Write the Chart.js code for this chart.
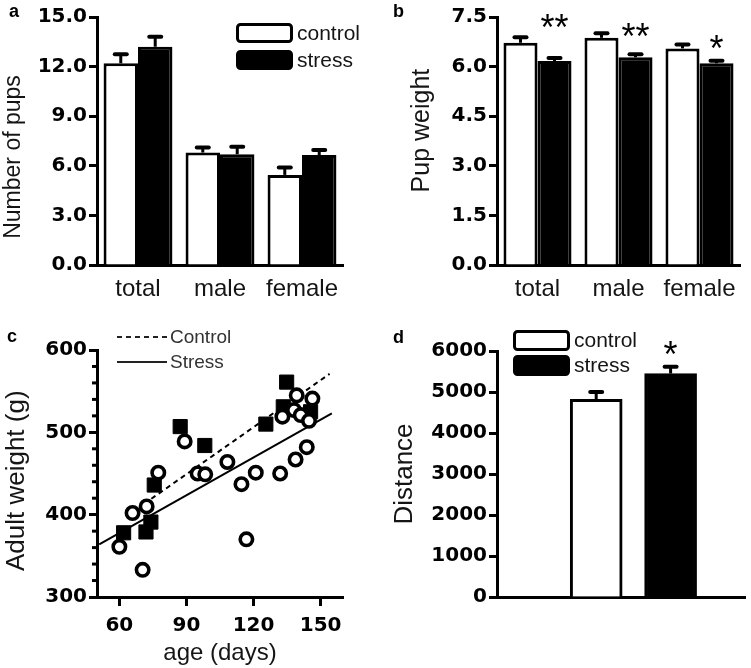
<!DOCTYPE html>
<html>
<head>
<meta charset="utf-8">
<script src="https://cdn.jsdelivr.net/npm/chart.js@4.4.1/dist/chart.umd.min.js"></script>
<style>
  html, body { margin: 0; padding: 0; background: #fff; }
  #wrap { position: relative; width: 751px; height: 668px; overflow: hidden; background: #fff; }
  canvas { position: absolute; }
  #chartA { left: 0; top: 0; }
  #chartB { left: 375px; top: 0; }
  #chartC { left: 0; top: 320px; }
  #chartD { left: 375px; top: 320px; }
</style>
</head>
<body>
<div id="wrap">
  <canvas id="chartA" width="375" height="320"></canvas>
  <canvas id="chartB" width="376" height="320"></canvas>
  <canvas id="chartC" width="375" height="348"></canvas>
  <canvas id="chartD" width="376" height="348"></canvas>
</div>
<script>
// ---- panel a: number of pups
const groups = ['total', 'male', 'female'];
const pupsControl = [12.2, 6.8, 5.45];
const pupsControlErr = [0.55, 0.3, 0.45];
const pupsStress = [13.2, 6.7, 6.65];
const pupsStressErr = [0.6, 0.45, 0.3];
const pupsTicks = [0, 3, 6, 9, 12, 15];

// ---- panel b: pup weight
const weightControl = [6.72, 6.87, 6.55];
const weightControlErr = [0.17, 0.14, 0.12];
const weightStress = [6.17, 6.28, 6.1];
const weightStressErr = [0.09, 0.09, 0.08];
const weightTicks = [0, 1.5, 3, 4.5, 6, 7.5];
const weightStars = ['**', '**', '*'];
const weightStarAt = [7.4, 7.15, 6.77];

// ---- panel c: adult weight vs age
const controlAge = [61.9, 71.9, 74.1, 75.6, 87.2, 98.2, 125.5, 133.3, 134.8, 145.5];
const controlAdult = [378, 379, 391, 436, 507, 484, 510, 531, 561, 525];
const stressAge = [60, 65.9, 70.4, 72.2, 77.4, 89.2, 95, 98.4, 108.3, 114.6, 116.8, 121,
  131.9, 132.9, 138.8, 143.8, 139.3, 146.3, 138.1, 141.1, 144.8];
const stressAdult = [361, 402, 333, 410, 451, 489, 450, 449, 464, 437, 370, 451,
  450, 519, 467, 482, 545, 541, 527, 521, 514];
const controlFitAge = [71, 154];
const controlFitWeight = [413, 571];
const stressFitAge = [51, 155];
const stressFitWeight = [364, 523];
const ageTicks = [60, 90, 120, 150];
const adultTicks = [300, 400, 500, 600];

// ---- panel d: distance
const treatments = ['control', 'stress'];
const distance = [4820, 5450];
const distanceErr = [180, 165];
const distanceTicks = [0, 1000, 2000, 3000, 4000, 5000, 6000];
const distanceStars = ['*'];
const distanceStarAt = [6090];

Chart.defaults.font.family = "'Liberation Sans', Arial, sans-serif";
Chart.defaults.color = '#000';
Chart.defaults.animation = false;
Chart.defaults.plugins.legend.display = false;
Chart.defaults.plugins.tooltip.enabled = false;

const tickFont = { family: 'DejaVu Sans', weight: 'bold', size: 20 };

function valueAxis(ticks, digits, title, titleSize, titlePad, width) {
  return {
    min: ticks[0],
    max: ticks[ticks.length - 1],
    afterBuildTicks: s => { s.ticks = ticks.map(v => ({ value: v })); },
    afterFit: s => { s.width = width; },
    ticks: { font: tickFont, color: '#000', padding: 2, callback: v => v.toFixed(digits) },
    grid: { drawOnChartArea: false, tickLength: 8, tickWidth: 3, tickColor: '#000' },
    border: { color: '#000', width: 3 },
    title: { display: true, text: title, color: '#151515', font: { size: titleSize }, padding: { top: titlePad, bottom: 0 } }
  };
}

function groupAxis(height) {
  return {
    afterFit: s => { s.height = height; },
    ticks: { font: { size: 24 }, color: '#151515', padding: 10 },
    grid: { display: false, drawTicks: false },
    border: { color: '#000', width: 3 }
  };
}

// upper error bars on bar charts
const errorBars = {
  id: 'errorBars',
  afterDatasetsDraw(chart) {
    const ctx = chart.ctx;
    ctx.save();
    ctx.strokeStyle = '#000';
    chart.data.datasets.forEach((ds, i) => {
      if (!ds.errors) return;
      const meta = chart.getDatasetMeta(i);
      const yScale = chart.scales[meta.yAxisID];
      meta.data.forEach((bar, j) => {
        const v = meta.controller.getParsed(j).y;
        const top = yScale.getPixelForValue(v + ds.errors[j]);
        ctx.lineWidth = 3;
        ctx.beginPath();
        ctx.moveTo(bar.x, bar.y);
        ctx.lineTo(bar.x, top);
        ctx.stroke();
        ctx.lineWidth = 4;
        ctx.lineCap = 'round';
        ctx.beginPath();
        ctx.moveTo(bar.x - 6, top);
        ctx.lineTo(bar.x + 6, top);
        ctx.stroke();
        ctx.lineCap = 'butt';
      });
    });
    ctx.restore();
  }
};

function starMarks(datasetIndex, marks, at) {
  return {
    id: 'starMarks',
    afterDatasetsDraw(chart) {
      const ctx = chart.ctx;
      const meta = chart.getDatasetMeta(datasetIndex);
      const yScale = chart.scales.y;
      ctx.save();
      ctx.fillStyle = '#000';
      ctx.font = "36px 'Liberation Sans', Arial, sans-serif";
      ctx.textAlign = 'center';
      ctx.textBaseline = 'alphabetic';
      marks.forEach((m, j) => {
        if (!m) return;
        ctx.fillText(m, meta.data[j].x, yScale.getPixelForValue(at[j]) + 20);
      });
      ctx.restore();
    }
  };
}

function boxLegend(x, tops, boxW, boxH, fontSize) {
  return {
    id: 'boxLegend',
    afterDraw(chart) {
      const ctx = chart.ctx;
      ctx.save();
      chart.data.datasets.forEach((ds, i) => {
        const y = tops[i];
        ctx.beginPath();
        ctx.roundRect(x + 1.5, y + 1.5, boxW - 3, boxH - 3, 3);
        ctx.fillStyle = ds.backgroundColor;
        ctx.fill();
        ctx.lineWidth = 3;
        ctx.strokeStyle = '#000';
        ctx.stroke();
        ctx.fillStyle = '#151515';
        ctx.font = fontSize + "px 'Liberation Sans', Arial, sans-serif";
        ctx.textBaseline = 'middle';
        ctx.fillText(ds.label, x + boxW + 4, y + boxH / 2 + 1);
      });
      ctx.restore();
    }
  };
}

function panelTag(letter, x, y) {
  return {
    id: 'panelTag',
    afterDraw(chart) {
      const ctx = chart.ctx;
      ctx.save();
      ctx.fillStyle = '#000';
      ctx.font = "bold 18px 'Liberation Sans', Arial, sans-serif";
      ctx.fillText(letter, x, y);
      ctx.restore();
    }
  };
}

const barStyle = { borderColor: '#000', borderWidth: 3, categoryPercentage: 0.84, barPercentage: 1 };

// ---- a
new Chart(document.getElementById('chartA'), {
  type: 'bar',
  data: {
    labels: groups,
    datasets: [
      Object.assign({ label: 'control', data: pupsControl, errors: pupsControlErr, backgroundColor: '#fff' }, barStyle),
      Object.assign({ label: 'stress', data: pupsStress, errors: pupsStressErr, backgroundColor: '#000' }, barStyle)
    ]
  },
  options: {
    responsive: false,
    layout: { padding: { top: 17, right: 32, left: 0, bottom: 0 } },
    scales: {
      x: groupAxis(55),
      // trailing spaces nudge the rotated title down, as in the figure
      y: valueAxis(pupsTicks, 1, 'Number of pups     ', 23, 0, 97)
    }
  },
  plugins: [errorBars, boxLegend(236, [23, 50], 57, 20, 21), panelTag('a', 9, 17)]
});

// ---- b
new Chart(document.getElementById('chartB'), {
  type: 'bar',
  data: {
    labels: groups,
    datasets: [
      Object.assign({ label: 'control', data: weightControl, errors: weightControlErr, backgroundColor: '#fff' }, barStyle),
      Object.assign({ label: 'stress', data: weightStress, errors: weightStressErr, backgroundColor: '#000' }, barStyle)
    ]
  },
  options: {
    responsive: false,
    layout: { padding: { top: 17, right: 11, left: 0, bottom: 0 } },
    scales: {
      x: groupAxis(55),
      y: valueAxis(weightTicks, 1, '   Pup weight', 25, 32, 122)
    }
  },
  plugins: [errorBars, starMarks(1, weightStars, weightStarAt), panelTag('b', 18, 17)]
});

// ---- c
const pairs = (xs, ys) => xs.map((x, i) => ({ x: x, y: ys[i] }));
const minorTicks = {
  id: 'minorTicks',
  afterDraw(chart) {
    const y = chart.scales.y, ctx = chart.ctx, left = chart.chartArea.left;
    ctx.save();
    ctx.strokeStyle = '#000';
    ctx.lineWidth = 3;
    for (let v = y.min + 20; v < y.max; v += 20) {
      if (v % 100 === 0) continue;
      const py = y.getPixelForValue(v);
      ctx.beginPath();
      ctx.moveTo(left - 5, py);
      ctx.lineTo(left, py);
      ctx.stroke();
    }
    ctx.restore();
  }
};
const lineLegend = {
  id: 'lineLegend',
  afterDraw(chart) {
    const ctx = chart.ctx;
    ctx.save();
    [2, 3].forEach((di, k) => {
      const ds = chart.data.datasets[di];
      const y = 17 + k * 25;
      ctx.strokeStyle = '#222';
      ctx.lineWidth = 2;
      ctx.setLineDash(ds.borderDash || []);
      ctx.beginPath();
      ctx.moveTo(117, y);
      ctx.lineTo(167, y);
      ctx.stroke();
      ctx.setLineDash([]);
      ctx.fillStyle = '#333';
      ctx.font = "19px 'Liberation Sans', Arial, sans-serif";
      ctx.textBaseline = 'middle';
      ctx.fillText(ds.label, 170, y + 1);
    });
    ctx.restore();
  }
};

new Chart(document.getElementById('chartC'), {
  type: 'scatter',
  data: {
    datasets: [
      { label: 'stress', data: pairs(stressAge, stressAdult), order: 1,
        pointRadius: 6.2, pointBorderWidth: 3.6, pointBackgroundColor: '#fff', pointBorderColor: '#000' },
      { label: 'control', data: pairs(controlAge, controlAdult), order: 2, pointStyle: 'rect',
        pointRadius: 10, pointBorderWidth: 1, pointBackgroundColor: '#000', pointBorderColor: '#000' },
      { type: 'line', label: 'Control', data: pairs(controlFitAge, controlFitWeight), order: 3, showLine: true,
        borderColor: '#000', borderWidth: 2, borderDash: [5, 4], pointRadius: 0 },
      { type: 'line', label: 'Stress', data: pairs(stressFitAge, stressFitWeight), order: 3, showLine: true,
        borderColor: '#000', borderWidth: 2, pointRadius: 0 }
    ]
  },
  options: {
    responsive: false,
    layout: { padding: { top: 30, right: 32, left: 0, bottom: 0 } },
    scales: {
      x: {
        type: 'linear', min: 50, max: 160,
        afterBuildTicks: s => { s.ticks = ageTicks.map(v => ({ value: v })); },
        afterFit: s => { s.height = 71; },
        ticks: { font: tickFont, color: '#000', padding: 8 },
        grid: { drawOnChartArea: false, tickLength: 9, tickWidth: 3, tickColor: '#000' },
        border: { color: '#000', width: 3 },
        title: { display: true, text: 'age (days)', color: '#151515', font: { size: 24 }, padding: { top: 0, bottom: 0 } }
      },
      y: valueAxis(adultTicks, 0, 'Adult weight (g)  ', 26, 1, 97)
    }
  },
  plugins: [minorTicks, lineLegend, panelTag('c', 7, 22)]
});

// ---- d
new Chart(document.getElementById('chartD'), {
  type: 'bar',
  data: {
    datasets: treatments.map((t, i) => ({
      label: t,
      data: [{ x: i, y: distance[i] }],
      errors: [distanceErr[i]],
      backgroundColor: i === 0 ? '#fff' : '#000',
      borderColor: '#000', borderWidth: 3, grouped: false, barThickness: 52
    }))
  },
  options: {
    responsive: false,
    layout: { padding: { top: 31, right: 6, left: 0, bottom: 0 } },
    scales: {
      x: {
        type: 'linear', min: -4 / 3, max: 2, offset: false,
        afterFit: s => { s.height = 71; },
        ticks: { display: false },
        grid: { display: false, drawTicks: false },
        border: { color: '#000', width: 3 }
      },
      y: valueAxis(distanceTicks, 0, 'Distance', 26, 14, 122)
    }
  },
  plugins: [errorBars, starMarks(1, distanceStars, distanceStarAt), boxLegend(138, [10, 35], 57, 21, 21), panelTag('d', 18, 23)]
});
</script>
</body>
</html>
